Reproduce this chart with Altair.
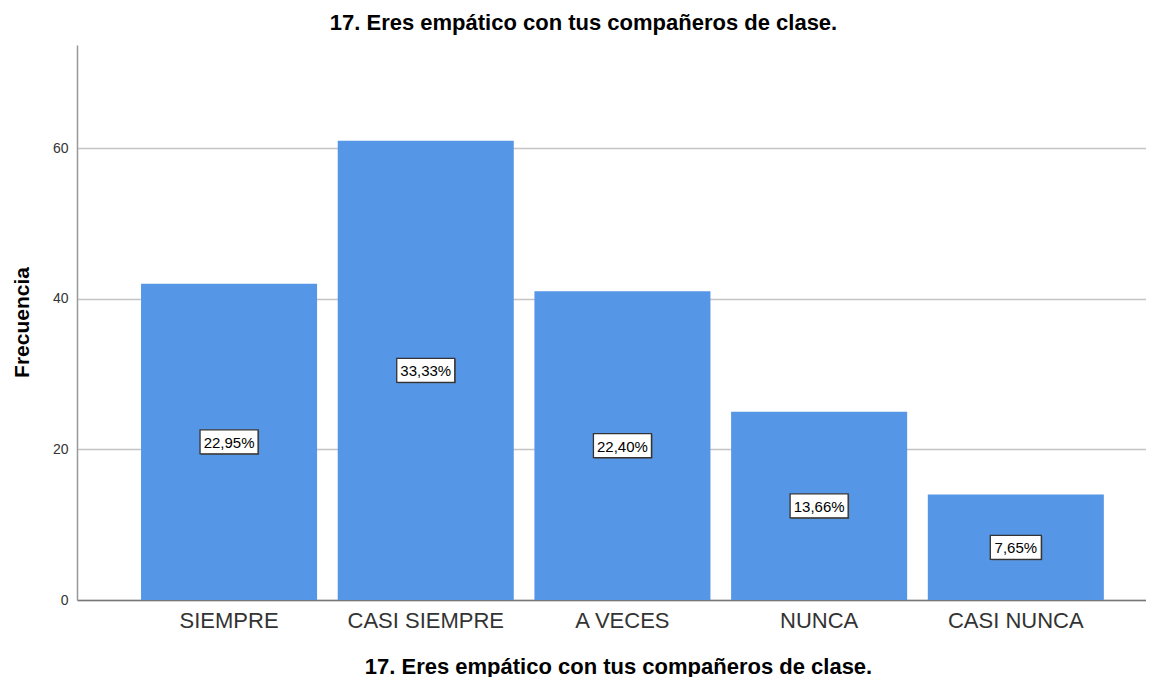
import altair as alt
import pandas as pd

categories = ["SIEMPRE", "CASI SIEMPRE", "A VECES", "NUNCA", "CASI NUNCA"]
counts = [42, 61, 41, 25, 14]
pct_labels = ["22,95%", "33,33%", "22,40%", "13,66%", "7,65%"]
box_kind = ["wide", "wide", "wide", "wide", "narrow"]

title_text = "17. Eres empático con tus compañeros de clase."
FONT = "Liberation Sans"

df = pd.DataFrame({"cat": categories, "n": counts, "pct": pct_labels, "kind": box_kind})

x = alt.X("cat:N", sort=categories,
          scale=alt.Scale(paddingInner=0.105, paddingOuter=0.27, align=0.603),
          axis=alt.Axis(title=title_text, labelAngle=0, ticks=False, grid=False,
                        labelFontSize=22, labelColor="#333333", labelPadding=10,
                        labelFont=FONT, titleFont=FONT, titleFontSize=22,
                        titleFontWeight="bold", titleColor="#000000", titlePadding=25,
                        titleX=541, titleAlign="center",
                        domainColor="#777777", domainWidth=1.5))

y_scale = alt.Scale(domain=[0, 73.7], nice=False)

bars = alt.Chart(df).mark_bar(color="#5596E6").encode(
    x=x,
    y=alt.Y("n:Q", scale=y_scale,
            axis=alt.Axis(title="Frecuencia", values=[0, 20, 40, 60], ticks=False,
                          grid=True, gridColor="#C4C4C4", gridWidth=1.5,
                          domainColor="#999999", domainWidth=1.5,
                          labelFontSize=14, labelColor="#333333", labelPadding=9,
                          labelFont=FONT, titleFont=FONT, titleFontSize=21,
                          titleFontWeight="bold", titleColor="#000000",
                          titleAngle=270, titleX=-55, titleY=277, titleAlign="center",
                          titleBaseline="middle")),
)

wide_path = "M-0.967,-0.4L0.967,-0.4L0.967,0.4L-0.967,0.4Z"
narrow_path = "M-0.85,-0.4L0.85,-0.4L0.85,0.4L-0.85,0.4Z"
shape_enc = alt.Shape("kind:N", scale=alt.Scale(domain=["wide", "narrow"],
                                                 range=[wide_path, narrow_path]),
                      legend=None)

base = alt.Chart(df).transform_calculate(mid="datum.n / 2")

shadow = base.mark_point(filled=True, fill="#555555", stroke=None, size=3600,
                         opacity=1, xOffset=1, yOffset=1).encode(
    x=alt.X("cat:N", sort=categories), y=alt.Y("mid:Q", scale=y_scale), shape=shape_enc)

boxes = base.mark_point(filled=True, fill="#FFFFFF", stroke="#333333", strokeWidth=1.3,
                        size=3600, opacity=1).encode(
    x=alt.X("cat:N", sort=categories), y=alt.Y("mid:Q", scale=y_scale), shape=shape_enc)

texts = base.mark_text(font=FONT, fontSize=15, color="#000000", baseline="middle",
                       align="center", dy=1).encode(
    x=alt.X("cat:N", sort=categories), y=alt.Y("mid:Q", scale=y_scale), text="pct:N")

chart = alt.layer(bars, shadow, boxes, texts).properties(
    width=1069, height=555,
    title=alt.TitleParams(title_text, font=FONT, fontSize=22, fontWeight="bold",
                          color="#000000", anchor="middle", dx=-28, offset=10),
    autosize=alt.AutoSizeParams(type="none"),
    padding={"left": 69, "top": 37, "right": 0, "bottom": 80},
).configure_view(stroke=None)

chart.save("out.html", embed_options={"renderer": "svg", "actions": False})
